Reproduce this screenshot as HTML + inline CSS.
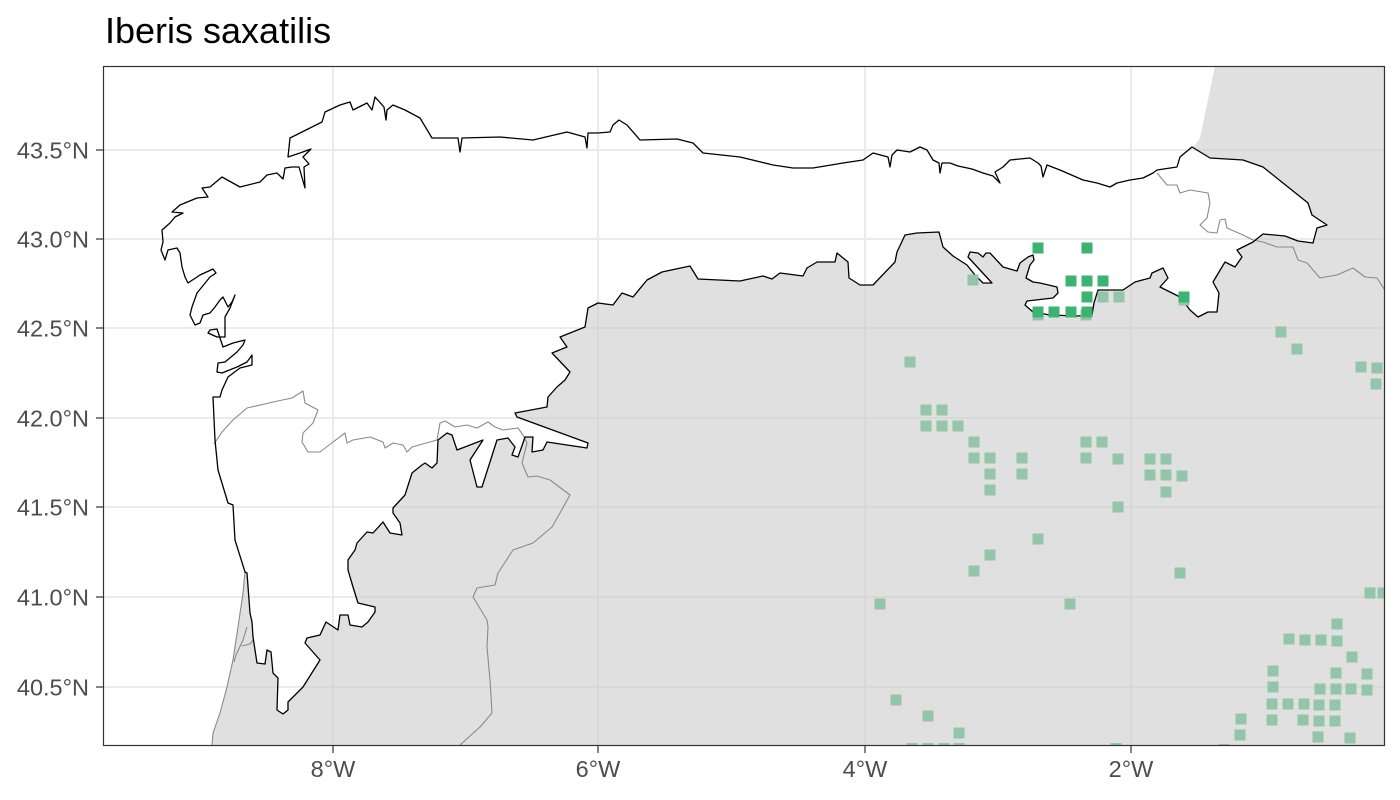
<!DOCTYPE html>
<html><head><meta charset="utf-8"><style>
html,body{margin:0;padding:0;background:#fff;}
svg{display:block;}
text{font-family:"Liberation Sans",Arial,sans-serif;}
</style></head><body>
<svg width="1400" height="800" viewBox="0 0 1400 800" xmlns="http://www.w3.org/2000/svg">
<defs>
<clipPath id="panel"><rect x="103" y="66" width="1281" height="679"/></clipPath>
<path id="study" d="M1192,147 L1180,157 1177,167 1157,170 1153,173 1143,178 1130,180 1117,183 1110,187 1097,183 1083,180 1060,170 1047,165 1043,177 1041,166 1038,163 1030,158 1010,160 1003,167 995,172 1000,183 993,176 983,173 972,169 958,166 950,163 942,163 940,173 939,163 933,160 927,150 920,147 910,152 897,150 892,155 890,167 888,157 873,153 863,160 843,163 813,168 793,168 773,165 740,157 703,153 693,143 677,139 640,140 627,125 619,120 613,125 610,132 598,133 588,133 587,148 585,137 567,132 533,140 500,137 462,138 460,152 458,138 432,138 420,118 405,110 393,105 387,110 386,120 384,107 375,97 372,110 367,103 353,110 350,102 340,105 325,112 322,122 310,128 290,138 288,157 300,153 311,149 303,157 309,164 304,167 305,188 299,167 292,167 285,168 283,179 277,173 267,175 260,182 240,187 222,177 210,187 202,188 208,197 197,198 180,205 172,212 183,213 175,217 170,223 162,230 163,242 161,250 165,260 168,250 177,248 180,253 182,267 185,277 188,283 200,275 213,269 216,273 210,277 197,293 192,307 190,315 195,325 200,323 203,315 210,313 215,307 220,300 223,297 228,307 232,302 235,295 230,308 225,317 225,337 217,337 208,333 210,330 217,329 223,347 233,343 245,340 243,345 237,352 225,362 218,363 217,372 222,373 237,367 247,362 252,355 252,365 240,368 228,377 222,390 220,397 213,397 215,440 218,470 228,503 233,505 235,540 245,572 247,573 250,613 252,622 253,637 257,663 265,664 267,650 271,652 273,673 278,678 277,710 283,714 288,710 288,702 303,687 320,660 305,643 307,638 320,635 326,622 338,630 340,615 348,615 350,625 362,627 368,622 375,612 375,607 358,603 353,587 348,570 348,560 355,550 357,543 367,532 373,533 383,522 390,533 402,535 400,523 393,513 393,508 405,495 412,473 422,465 425,463 432,468 437,463 438,440 447,433 452,435 457,450 483,440 470,460 477,487 482,487 497,440 508,438 515,447 512,455 518,457 523,443 525,437 533,437 532,452 543,450 547,442 587,448 588,443 517,417 515,413 547,407 548,397 557,387 565,380 570,372 552,353 567,347 560,337 585,327 588,308 598,303 613,305 622,293 633,297 647,280 662,272 690,266 698,279 740,281 763,276 772,279 780,273 803,276 807,268 817,262 835,262 837,253 848,262 849,278 860,285 873,285 895,262 897,252 905,235 917,233 939,232 943,247 953,256 967,265 975,275 983,283 992,283 968,257 970,252 978,253 983,257 986,253 990,253 1003,267 1017,271 1020,263 1028,257 1033,255 1034,260 1030,265 1026,278 1033,282 1040,283 1057,287 1058,293 1053,298 1027,301 1025,305 1033,312 1050,315 1077,316 1092,315 1094,303 1098,290 1110,290 1123,290 1135,282 1150,278 1152,273 1163,268 1168,278 1160,287 1180,297 1190,310 1198,317 1208,312 1217,312 1219,293 1213,282 1225,262 1235,267 1242,257 1237,250 1253,242 1263,234 1285,236 1298,241 1313,243 1317,228 1327,225 1312,215 1308,203 1283,183 1263,167 1243,160 1210,158 Z"/>
<clipPath id="studyclip"><use href="#study"/></clipPath>
<g id="grid" stroke="#ebebeb" stroke-width="2" fill="none">
<line x1="103" y1="150" x2="1384" y2="150"/>
<line x1="103" y1="239" x2="1384" y2="239"/>
<line x1="103" y1="328" x2="1384" y2="328"/>
<line x1="103" y1="418" x2="1384" y2="418"/>
<line x1="103" y1="507" x2="1384" y2="507"/>
<line x1="103" y1="597" x2="1384" y2="597"/>
<line x1="103" y1="687" x2="1384" y2="687"/>
<line x1="333" y1="66" x2="333" y2="745"/>
<line x1="598" y1="66" x2="598" y2="745"/>
<line x1="865" y1="66" x2="865" y2="745"/>
<line x1="1131" y1="66" x2="1131" y2="745"/>
</g>
</defs>

<text x="105" y="43" font-size="36" fill="#000">Iberis saxatilis</text>

<g clip-path="url(#panel)">
<rect x="103" y="66" width="1281" height="679" fill="#fff"/>
<use href="#grid"/>
<path d="M1215,66 L1384,66 L1384,745 L212,745 213,733 220,713 227,687 233,660 238,627 243,593 245,572 250,575 300,420 500,250 900,200 1150,195 1185,172 1192,147 1195,145 1200,138 Z" fill="#cccccc" fill-opacity="0.6"/>
<use href="#study" fill="#fff"/>
<g clip-path="url(#studyclip)"><use href="#grid"/></g>
<g fill="none" stroke="#8a8a8a" stroke-width="1.1" stroke-linejoin="round">
<polyline points="214,444 222,432 233,420 247,408 273,402 292,398 303,391 305,403 318,410 313,423 303,433 302,442 308,452 320,452 333,442 345,433 347,443 353,440 370,437 383,442 385,448 393,443 403,445 407,452 412,447 437,440 440,423 445,421 455,427 467,425 477,428 488,422 495,427 503,430 518,428 523,435 527,443 522,463 528,477 537,476 550,480 570,495 560,513 552,527 533,543 513,550 498,573 495,585 477,588 473,597 487,620 488,627 487,647 490,680 492,713 480,727 460,745"/>
<polyline points="1157,173 1167,185 1177,185 1180,193 1190,190 1208,193 1210,203 1207,218 1200,225 1208,232 1217,233 1220,220 1225,219 1227,228 1243,235 1253,240 1263,242 1277,247 1293,247 1298,260 1307,263 1320,278 1325,277 1337,275 1353,268 1365,277 1377,278 1386,292"/>
<polyline points="245,572 243,593 238,627 233,660 227,687 220,713 213,733 212,745"/>
<polyline points="247,627 243,640 236,655 234,662"/>
<polyline points="242,646 250,644 254,639"/>
</g>
<use href="#study" fill="none" stroke="#000" stroke-width="1.3" stroke-linejoin="round"/>

<g fill="#93c5a9">
<rect x="967.5" y="274.5" width="11" height="11"/>
<rect x="1097.5" y="291.5" width="11" height="11"/>
<rect x="1113.5" y="291.5" width="11" height="11"/>
<rect x="1032.5" y="309.5" width="11" height="11"/>
<rect x="1080.5" y="309.5" width="11" height="11"/>
<rect x="1178.5" y="294.5" width="11" height="11"/>
<rect x="1275.5" y="326.5" width="11" height="11"/>
<rect x="1291.5" y="343.5" width="11" height="11"/>
<rect x="1355.5" y="361.5" width="11" height="11"/>
<rect x="1371.5" y="362.5" width="11" height="11"/>
<rect x="1370.5" y="378.5" width="11" height="11"/>
<rect x="904.5" y="356.5" width="11" height="11"/>
<rect x="920.5" y="404.5" width="11" height="11"/>
<rect x="936.5" y="404.5" width="11" height="11"/>
<rect x="920.5" y="420.5" width="11" height="11"/>
<rect x="936.5" y="420.5" width="11" height="11"/>
<rect x="952.5" y="420.5" width="11" height="11"/>
<rect x="968.5" y="436.5" width="11" height="11"/>
<rect x="1080.5" y="436.5" width="11" height="11"/>
<rect x="1096.5" y="436.5" width="11" height="11"/>
<rect x="968.5" y="452.5" width="11" height="11"/>
<rect x="984.5" y="452.5" width="11" height="11"/>
<rect x="1016.5" y="452.5" width="11" height="11"/>
<rect x="1080.5" y="452.5" width="11" height="11"/>
<rect x="1112.5" y="453.5" width="11" height="11"/>
<rect x="1144.5" y="453.5" width="11" height="11"/>
<rect x="1160.5" y="453.5" width="11" height="11"/>
<rect x="984.5" y="468.5" width="11" height="11"/>
<rect x="1016.5" y="468.5" width="11" height="11"/>
<rect x="1144.5" y="469.5" width="11" height="11"/>
<rect x="1160.5" y="469.5" width="11" height="11"/>
<rect x="1176.5" y="470.5" width="11" height="11"/>
<rect x="984.5" y="484.5" width="11" height="11"/>
<rect x="1160.5" y="486.5" width="11" height="11"/>
<rect x="1112.5" y="501.5" width="11" height="11"/>
<rect x="1032.5" y="533.5" width="11" height="11"/>
<rect x="984.5" y="549.5" width="11" height="11"/>
<rect x="968.5" y="565.5" width="11" height="11"/>
<rect x="1174.5" y="567.5" width="11" height="11"/>
<rect x="1364.5" y="587.5" width="11" height="11"/>
<rect x="1377.5" y="587.5" width="11" height="11"/>
<rect x="874.5" y="598.5" width="11" height="11"/>
<rect x="1064.5" y="598.5" width="11" height="11"/>
<rect x="1331.5" y="618.5" width="11" height="11"/>
<rect x="1283.5" y="633.5" width="11" height="11"/>
<rect x="1299.5" y="634.5" width="11" height="11"/>
<rect x="1315.5" y="634.5" width="11" height="11"/>
<rect x="1331.5" y="635.5" width="11" height="11"/>
<rect x="1346.5" y="651.5" width="11" height="11"/>
<rect x="1267.5" y="665.5" width="11" height="11"/>
<rect x="1330.5" y="667.5" width="11" height="11"/>
<rect x="1361.5" y="668.5" width="11" height="11"/>
<rect x="890.5" y="694.5" width="11" height="11"/>
<rect x="1267.5" y="681.5" width="11" height="11"/>
<rect x="1314.5" y="683.5" width="11" height="11"/>
<rect x="1330.5" y="683.5" width="11" height="11"/>
<rect x="1345.5" y="683.5" width="11" height="11"/>
<rect x="1361.5" y="684.5" width="11" height="11"/>
<rect x="922.5" y="710.5" width="11" height="11"/>
<rect x="1266.5" y="698.5" width="11" height="11"/>
<rect x="1282.5" y="698.5" width="11" height="11"/>
<rect x="1298.5" y="698.5" width="11" height="11"/>
<rect x="1313.5" y="699.5" width="11" height="11"/>
<rect x="1329.5" y="699.5" width="11" height="11"/>
<rect x="1235.5" y="713.5" width="11" height="11"/>
<rect x="1266.5" y="714.5" width="11" height="11"/>
<rect x="1297.5" y="714.5" width="11" height="11"/>
<rect x="1313.5" y="715.5" width="11" height="11"/>
<rect x="1329.5" y="715.5" width="11" height="11"/>
<rect x="953.5" y="727.5" width="11" height="11"/>
<rect x="1234.5" y="729.5" width="11" height="11"/>
<rect x="1312.5" y="731.5" width="11" height="11"/>
<rect x="1344.5" y="732.5" width="11" height="11"/>
<rect x="906.5" y="743" width="11" height="11"/>
<rect x="922.5" y="743" width="11" height="11"/>
<rect x="938.5" y="743" width="11" height="11"/>
<rect x="953.5" y="743" width="11" height="11"/>
<rect x="1110.5" y="743" width="11" height="11"/>
<rect x="1218.5" y="744" width="11" height="11"/>
</g>
<g fill="#3cb371">
<rect x="1032.5" y="242.5" width="11" height="11"/>
<rect x="1081.5" y="242.5" width="11" height="11"/>
<rect x="1065.5" y="275.5" width="11" height="11"/>
<rect x="1081.5" y="275.5" width="11" height="11"/>
<rect x="1097.5" y="275.5" width="11" height="11"/>
<rect x="1081.5" y="291.5" width="11" height="11"/>
<rect x="1032.5" y="306.5" width="11" height="11"/>
<rect x="1048.5" y="306.5" width="11" height="11"/>
<rect x="1065.5" y="306.5" width="11" height="11"/>
<rect x="1081.5" y="306.5" width="11" height="11"/>
<rect x="1178.5" y="291.5" width="11" height="11"/>
</g>
</g>

<rect x="103.5" y="66.5" width="1281" height="679" fill="none" stroke="#333" stroke-width="1.2"/>

<g stroke="#333" stroke-width="1.2">
<line x1="96" y1="150" x2="103" y2="150"/>
<line x1="96" y1="239" x2="103" y2="239"/>
<line x1="96" y1="328" x2="103" y2="328"/>
<line x1="96" y1="418" x2="103" y2="418"/>
<line x1="96" y1="507" x2="103" y2="507"/>
<line x1="96" y1="597" x2="103" y2="597"/>
<line x1="96" y1="687" x2="103" y2="687"/>
<line x1="333" y1="746" x2="333" y2="753"/>
<line x1="598" y1="746" x2="598" y2="753"/>
<line x1="865" y1="746" x2="865" y2="753"/>
<line x1="1131" y1="746" x2="1131" y2="753"/>
</g>

<g font-size="23.5" fill="#4d4d4d" text-anchor="end">
<text x="89" y="158.5">43.5°N</text>
<text x="89" y="247.5">43.0°N</text>
<text x="89" y="336.5">42.5°N</text>
<text x="89" y="426.5">42.0°N</text>
<text x="89" y="515.5">41.5°N</text>
<text x="89" y="605.5">41.0°N</text>
<text x="89" y="695.5">40.5°N</text>
</g>
<g font-size="23.5" fill="#4d4d4d" text-anchor="middle">
<text x="333" y="777">8°W</text>
<text x="598" y="777">6°W</text>
<text x="865" y="777">4°W</text>
<text x="1131" y="777">2°W</text>
</g>
</svg>
</body></html>
